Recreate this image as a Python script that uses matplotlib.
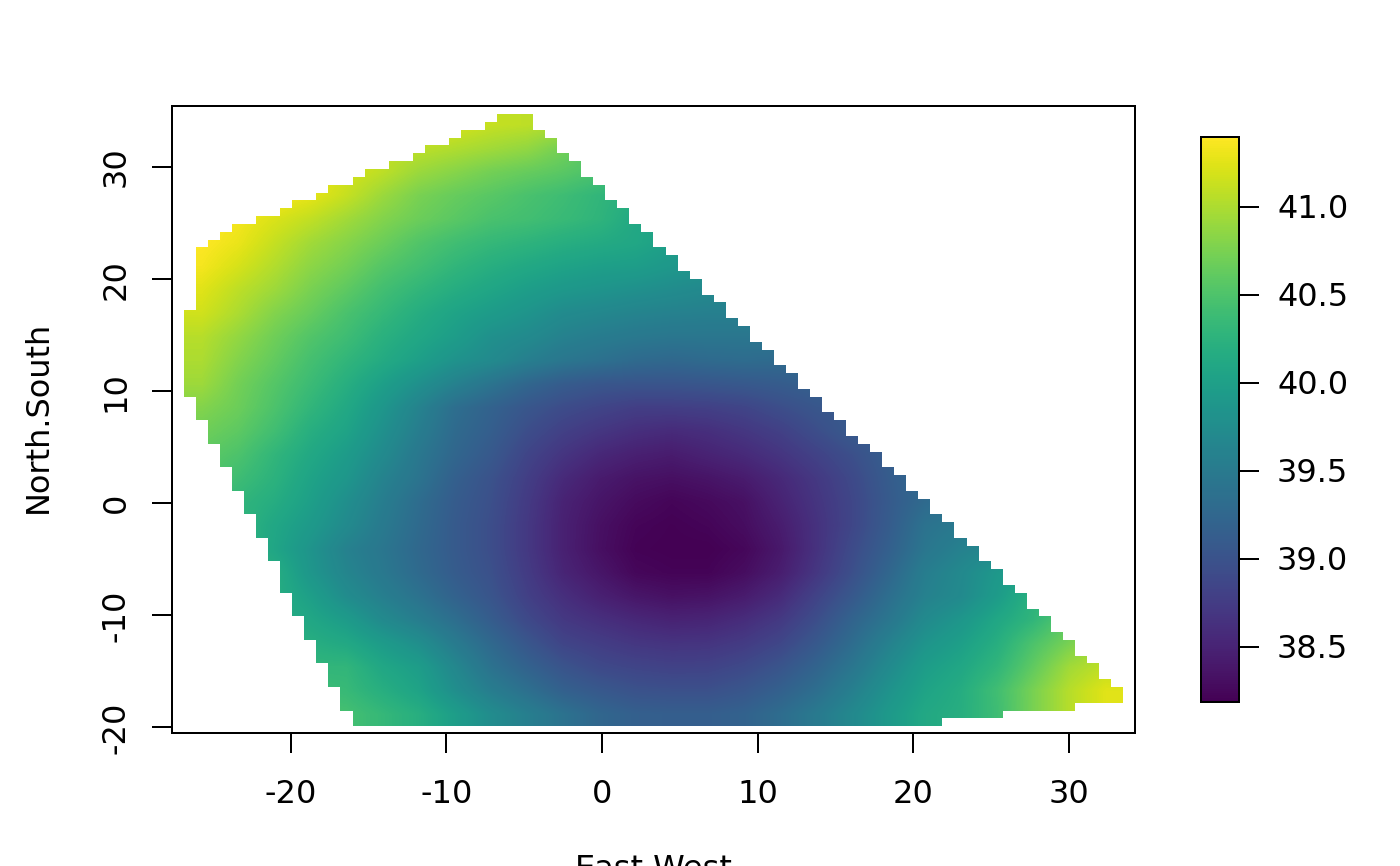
import numpy as np
import matplotlib
matplotlib.use("Agg")
import matplotlib.pyplot as plt
from matplotlib.path import Path
from matplotlib.patches import PathPatch
from matplotlib.transforms import ScaledTranslation

# Field values, one row per three grid rows, top to bottom
field = np.array([
[41.4,41.4,41.4,41.4,41.4,41.35,41.3,41.2,41.12,41.08,41.0,40.85,40.65,40.5,40.5,40.5,40.5,40.5,40.5,40.5,40.5,40.5,40.5,40.5,40.5,40.5],
[41.4,41.4,41.4,41.35,41.25,41.12,41.08,41.02,40.95,40.88,40.72,40.55,40.4,40.3,40.3,40.3,40.3,40.3,40.3,40.3,40.3,40.3,40.3,40.3,40.3,40.3],
[41.4,41.4,41.4,41.35,41.2,41.08,40.92,40.82,40.72,40.65,40.58,40.48,40.3,40.2,40.1,40.1,40.1,40.1,40.1,40.1,40.1,40.1,40.1,40.1,40.1,40.1],
[41.4,41.4,41.38,41.28,41.12,40.92,40.75,40.65,40.57,40.48,40.4,40.3,40.2,40.1,40.0,40.0,40.0,40.0,40.0,40.0,40.0,40.0,40.0,40.0,40.0,40.0],
[41.4,41.35,41.22,41.1,40.95,40.8,40.68,40.58,40.48,40.43,40.36,40.28,40.12,40.0,39.9,39.9,39.9,39.9,39.9,39.9,39.9,39.9,39.9,39.9,39.9,39.9],
[41.4,41.3,41.12,40.95,40.82,40.68,40.53,40.42,40.33,40.27,40.2,40.15,40.1,40.0,39.85,39.8,39.8,39.8,39.8,39.8,39.8,39.8,39.8,39.8,39.8,39.8],
[41.35,41.2,41.03,40.85,40.72,40.55,40.43,40.3,40.2,40.12,40.05,40.0,39.98,39.9,39.85,39.8,39.8,39.8,39.8,39.8,39.8,39.8,39.8,39.8,39.8,39.8],
[41.25,41.08,40.93,40.75,40.6,40.43,40.3,40.18,40.08,39.98,39.9,39.85,39.8,39.75,39.7,39.65,39.65,39.65,39.65,39.65,39.65,39.65,39.65,39.65,39.65,39.65],
[41.17,41.0,40.8,40.65,40.48,40.33,40.18,40.05,39.95,39.85,39.73,39.68,39.63,39.6,39.58,39.58,39.58,39.58,39.58,39.58,39.58,39.58,39.58,39.58,39.58,39.58],
[41.05,40.88,40.7,40.53,40.4,40.23,40.1,39.97,39.8,39.72,39.6,39.53,39.48,39.45,39.45,39.45,39.45,39.45,39.45,39.45,39.45,39.45,39.45,39.45,39.45,39.45],
[41.0,40.8,40.63,40.45,40.3,40.15,40.0,39.83,39.72,39.57,39.45,39.38,39.3,39.27,39.3,39.32,39.3,39.35,39.35,39.35,39.35,39.35,39.35,39.35,39.35,39.35],
[40.93,40.72,40.55,40.38,40.2,40.0,39.8,39.6,39.42,39.25,39.12,39.05,39.03,39.03,39.05,39.08,39.12,39.18,39.2,39.2,39.2,39.2,39.2,39.2,39.2,39.2],
[40.8,40.68,40.5,40.3,40.12,39.88,39.62,39.35,39.2,39.05,38.93,38.85,38.78,38.78,38.8,38.85,38.95,39.05,39.1,39.1,39.1,39.1,39.1,39.1,39.1,39.1],
[40.7,40.6,40.42,40.2,40.05,39.8,39.55,39.3,39.15,38.95,38.8,38.7,38.62,38.58,38.62,38.7,38.8,38.95,39.1,39.15,39.15,39.15,39.15,39.15,39.15,39.15],
[40.6,40.5,40.3,40.12,39.95,39.72,39.47,39.25,39.08,38.85,38.68,38.55,38.47,38.43,38.5,38.57,38.68,38.82,38.97,39.15,39.2,39.2,39.2,39.2,39.2,39.2],
[40.55,40.4,40.25,40.05,39.88,39.62,39.42,39.17,39.0,38.78,38.57,38.43,38.35,38.32,38.36,38.43,38.56,38.72,38.9,39.12,39.3,39.3,39.3,39.3,39.3,39.3],
[40.45,40.3,40.18,40.0,39.78,39.55,39.33,39.12,38.97,38.74,38.5,38.37,38.28,38.23,38.27,38.33,38.5,38.68,38.87,39.1,39.3,39.4,39.4,39.4,39.4,39.4],
[40.3,40.3,40.1,39.93,39.72,39.5,39.3,39.1,38.95,38.72,38.48,38.33,38.23,38.2,38.23,38.3,38.44,38.65,38.87,39.12,39.4,39.5,39.6,39.6,39.6,39.6],
[40.3,40.3,40.08,39.85,39.6,39.45,39.27,39.1,38.95,38.72,38.48,38.32,38.21,38.19,38.19,38.25,38.4,38.65,38.92,39.17,39.45,39.6,39.7,39.8,39.8,39.8],
[40.3,40.3,40.2,39.88,39.65,39.48,39.3,39.12,38.98,38.75,38.52,38.38,38.25,38.22,38.22,38.3,38.45,38.7,38.97,39.25,39.55,39.7,39.9,40.05,40.05,40.05],
[40.3,40.3,40.2,40.0,39.75,39.57,39.4,39.2,39.03,38.8,38.62,38.48,38.38,38.33,38.35,38.43,38.58,38.83,39.08,39.35,39.6,39.72,39.95,40.25,40.4,40.4],
[40.3,40.3,40.2,40.1,39.95,39.72,39.55,39.35,39.13,38.9,38.72,38.63,38.55,38.5,38.52,38.6,38.73,38.95,39.22,39.45,39.72,39.88,40.1,40.3,40.6,40.75],
[40.4,40.4,40.3,40.2,40.12,39.95,39.78,39.52,39.28,39.05,38.85,38.77,38.7,38.67,38.68,38.75,38.87,39.08,39.33,39.6,39.85,40.0,40.2,40.5,40.75,41.0],
[40.4,40.4,40.4,40.3,40.3,40.1,39.97,39.68,39.4,39.2,39.02,38.9,38.85,38.82,38.83,38.9,39.03,39.22,39.45,39.72,39.97,40.1,40.3,40.62,40.95,41.1],
[40.5,40.5,40.5,40.4,40.35,40.2,40.05,39.78,39.55,39.37,39.18,39.08,39.0,38.98,38.98,39.05,39.18,39.35,39.58,39.83,40.05,40.18,40.42,40.75,41.05,41.25],
[40.5,40.5,40.5,40.5,40.45,40.33,40.2,39.98,39.75,39.57,39.4,39.25,39.17,39.15,39.15,39.2,39.33,39.5,39.7,39.92,40.12,40.2,40.4,40.75,41.05,41.25],
])

# First and one-past-last occupied grid column of each grid row, top to bottom
row_start = [26,25,23,22,20,19,17,15,14,12,11,9,8,6,4,3,2,
             1,1,1,1,1,1,1,1, 0,0,0,0,0,0,0,0,0,0,0,
             1,1,1, 2,2,2, 3,3,3, 4,4,4, 5,5,5, 6,6,6, 7,7,7, 8,8,8,8,
             9,9,9, 10,10,10, 11,11,11, 12,12,12, 13,13,13, 14,14]
row_end = [29,29,30,31,31,32,33,33,34,35,35,36,37,37,38,39,39,40,41,41,42,43,43,44,45,45,
           46,47,47,48,49,49,50,51,51,52,53,53,54,55,55,56,57,58,58,59,60,60,61,62,62,63,
           64,64,65,66,66,67,68,68,69,70,70,71,72,72,73,74,74,75,76,76,77,78,78,74,68,63]

x_ticks = [-20, -10, 0, 10, 20, 30]
y_ticks = [-20, -10, 0, 10, 20, 30]
bar_ticks = [38.5, 39.0, 39.5, 40.0, 40.5, 41.0]
x_name = "East.West"
y_name = "North.South"

W, H = 1400, 866
FS = 11.5
LW = 0.72
plt.rcParams["font.family"] = "DejaVu Sans"
plt.rcParams["axes.unicode_minus"] = False
fig = plt.figure(figsize=(7, 4.33), dpi=200)

def axes_px(l, t, r, b):
    return fig.add_axes([l / W, 1 - b / H, (r - l) / W, (b - t) / H])

ax = axes_px(172, 106, 1135, 733)

grid_left, grid_right = -26.86, 33.48
grid_bottom, grid_top = -19.9, 34.73
n_grid = len(row_start)
cx = (grid_right - grid_left) / n_grid
cy = (grid_top - grid_bottom) / n_grid

im = ax.imshow(field, cmap="viridis", vmin=38.19, vmax=41.40, aspect="auto",
               origin="upper", interpolation="bilinear",
               extent=(grid_left, grid_right, grid_bottom, grid_top), zorder=1)

# Staircase outline of the occupied cells
outline = []
for i, e in enumerate(row_end):
    outline += [(grid_left + e * cx, grid_top - i * cy),
                (grid_left + e * cx, grid_top - (i + 1) * cy)]
for i in range(n_grid - 1, -1, -1):
    s = row_start[i]
    outline += [(grid_left + s * cx, grid_top - (i + 1) * cy),
                (grid_left + s * cx, grid_top - i * cy)]
outline.append(outline[0])
clip = PathPatch(Path(outline), transform=ax.transData, fc="none", ec="none")
ax.add_patch(clip)
im.set_clip_path(clip)
ax.set_xlim(-27.63, 34.25)
ax.set_ylim(-20.5, 35.45)

ax.set_xticks(x_ticks)
ax.set_yticks(y_ticks)
ax.tick_params(axis="x", length=7.2, width=LW, labelsize=FS, pad=9.5)
ax.tick_params(axis="y", length=7.2, width=LW, labelsize=FS, pad=7.3)
for t in ax.get_yticklabels():
    t.set_rotation(90)
    t.set_va("center")
for s in ax.spines.values():
    s.set_linewidth(LW)

fig.text(654 / W, 1 - 878 / H, x_name, ha="center", va="baseline", fontsize=FS)
fig.text(38 / W, 1 - 417 / H, y_name, ha="center", va="center", rotation=90, fontsize=FS)

cax = axes_px(1201, 137, 1239, 702)
cb = fig.colorbar(im, cax=cax)
cb.set_ticks(bar_ticks)
cb.set_ticklabels([f"{v:.1f}" for v in bar_ticks])
cb.ax.tick_params(length=7.2, width=LW, labelsize=FS, pad=6.5)
nudge = ScaledTranslation(0, -2 / 200, fig.dpi_scale_trans)
for t in cb.ax.get_yticklabels():
    t.set_va("center")
    t.set_transform(t.get_transform() + nudge)
cb.outline.set_linewidth(LW)

fig.savefig("out.png", dpi=200)
